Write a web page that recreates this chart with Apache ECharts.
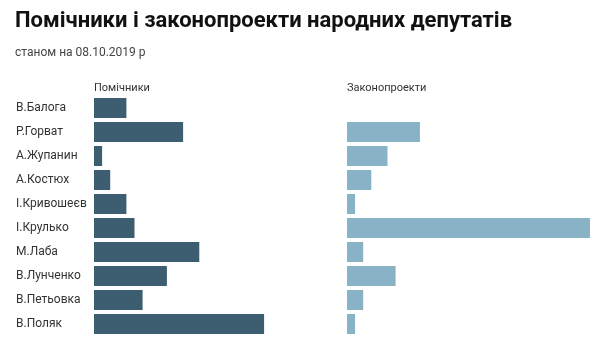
<!DOCTYPE html>
<html>
<head>
<meta charset="utf-8">
<script src="https://cdn.jsdelivr.net/npm/echarts@6/dist/echarts.min.js"></script>
<style>
  html, body { margin: 0; padding: 0; background: #fff; }
  #chart { width: 602px; height: 354px; }
</style>
</head>
<body>
<div id="chart"></div>
<script>
// дані
const deputies = ['В.Балога', 'Р.Горват', 'А.Жупанин', 'А.Костюх', 'І.Кривошеєв',
  'І.Крулько', 'М.Лаба', 'В.Лунченко', 'В.Петьовка', 'В.Поляк']
const assistants = [4, 11, 1, 2, 4, 5, 13, 9, 6, 21]
const bills = [0, 9, 5, 3, 1, 30, 2, 6, 2, 1]

const font = 'Roboto, "Noto Sans", sans-serif'

let chart = echarts.init(document.getElementById('chart'))
chart.setOption({
  animation: false,
  textStyle: { fontFamily: font },
  title: [
    {
      text: 'Помічники і законопроекти народних депутатів',
      left: 10, top: 5,
      textStyle: { fontSize: 22, fontWeight: 'bold', color: '#111', fontFamily: font }
    },
    {
      text: 'станом на 08.10.2019 р',
      left: 10, top: 42,
      textStyle: { fontSize: 12, fontWeight: 'normal', color: '#444', fontFamily: font }
    },
    {
      text: 'Помічники',
      left: 89, top: 78,
      textStyle: { fontSize: 11, fontWeight: 'normal', color: '#333', fontFamily: font }
    },
    {
      text: 'Законопроекти',
      left: 342, top: 78,
      textStyle: { fontSize: 11, fontWeight: 'normal', color: '#333', fontFamily: font }
    }
  ],
  grid: [
    { left: 94, top: 96, width: 243, height: 240 },
    { left: 347, top: 96, width: 243, height: 240 }
  ],
  xAxis: [
    { gridIndex: 0, type: 'value', min: 0, max: 30, show: false },
    { gridIndex: 1, type: 'value', min: 0, max: 30, show: false }
  ],
  yAxis: [
    {
      gridIndex: 0, type: 'category', data: deputies, inverse: true,
      axisLine: { show: false }, axisTick: { show: false },
      axisLabel: { align: 'left', margin: 78, fontSize: 12, color: '#333', fontFamily: font }
    },
    {
      gridIndex: 1, type: 'category', data: deputies, inverse: true,
      axisLine: { show: false }, axisTick: { show: false },
      axisLabel: { show: false }
    }
  ],
  series: [
    {
      type: 'bar', xAxisIndex: 0, yAxisIndex: 0,
      data: assistants, barWidth: 20,
      itemStyle: { color: '#3d5e70' }
    },
    {
      type: 'bar', xAxisIndex: 1, yAxisIndex: 1,
      data: bills, barWidth: 20,
      itemStyle: { color: '#89b2c6' }
    }
  ]
})
</script>
</body>
</html>
